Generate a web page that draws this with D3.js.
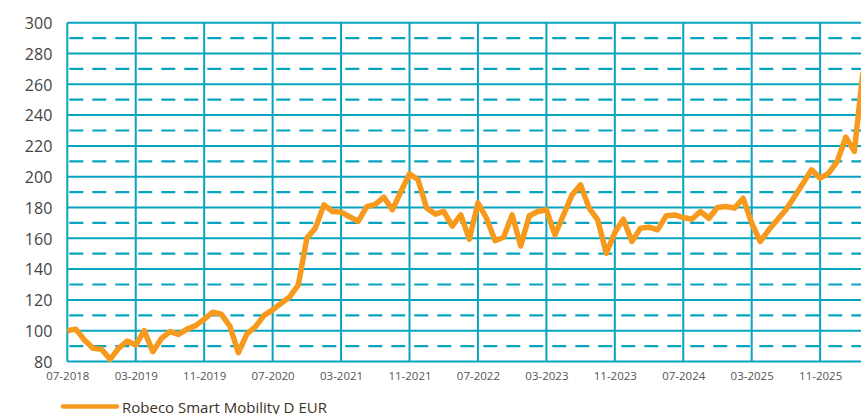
<!DOCTYPE html>
<html>
<head>
<meta charset="utf-8">
<script src="https://cdn.jsdelivr.net/npm/d3@7"></script>
<style>
  html, body { margin: 0; padding: 0; background: #fff; overflow: hidden; }
  svg { display: block; }
  text { font-family: "Open Sans", "Noto Sans", sans-serif; }
</style>
</head>
<body>
<div id="chart"></div>
<script>
// ---- data ----
const seriesName = "Robeco Smart Mobility D EUR";
const startMonth = "07-2018";
const values = [
  100, 101, 94, 88.6, 88, 81.4, 88.6, 93.3, 90.7, 100,
  86.4, 95, 99.4, 97.6, 101, 103.3, 107.4, 112, 110.7, 103,
  85.7, 98, 102.6, 110, 113.5, 117.8, 122, 129.7, 160, 166.6,
  181.7, 177.4, 177, 174, 171, 180.6, 182, 186.7, 178.5, 190.4,
  201.9, 198, 179.6, 175.7, 177.4, 168, 175.2, 159.4, 183, 173,
  158.5, 160.7, 175.2, 155, 174.6, 177.4, 178.5, 162.2, 175.2, 188.2,
  194.7, 179.6, 172, 150.3, 163.7, 172.4, 157.9, 166.6, 167.2, 165.5,
  174.6, 175.2, 173.5, 172.4, 177.4, 173, 180, 180.6, 179.6, 186,
  169.8, 157.9, 165.5, 172, 178.5, 187, 195.8, 204.5, 199, 202.3,
  210, 225.7, 216.4, 268
];
const xTickIndex = [0, 8, 16, 24, 32, 40, 48, 56, 64, 72, 80, 88];
const xTickLabels = ["07-2018", "03-2019", "11-2019", "07-2020", "03-2021", "11-2021",
                     "07-2022", "03-2023", "11-2023", "07-2024", "03-2025", "11-2025"];
const yTicks = [80, 100, 120, 140, 160, 180, 200, 220, 240, 260, 280, 300];
const yMinorTicks = [90, 110, 130, 150, 170, 190, 210, 230, 250, 270, 290];

// ---- layout ----
const W = 861, H = 414;
const padLeft = 67.3, padTop = 22.7, padBottom = 361.5;
const monthStep = 8.555;
const gridColor = "#06a4be";
const lineColor = "#f7991c";

const svg = d3.select("#chart").append("svg").attr("width", W).attr("height", H);

const x = d3.scaleLinear().domain([0, 93]).range([padLeft, padLeft + 93 * monthStep]);
const y = d3.scaleLinear().domain([80, 300]).range([padBottom, padTop]);

const gridRight = W + 10;

// dashed minor horizontal grid
svg.append("g").selectAll("line").data(yMinorTicks).join("line")
  .attr("x1", padLeft).attr("x2", gridRight)
  .attr("y1", d => y(d)).attr("y2", d => y(d))
  .attr("stroke", gridColor).attr("stroke-width", 2.2)
  .attr("stroke-dasharray", "14,9").attr("stroke-dashoffset", -2);

// solid major horizontal grid
svg.append("g").selectAll("line").data(yTicks).join("line")
  .attr("x1", padLeft).attr("x2", gridRight)
  .attr("y1", d => y(d)).attr("y2", d => y(d))
  .attr("stroke", gridColor).attr("stroke-width", 2);

// vertical grid
svg.append("g").selectAll("line").data(xTickIndex).join("line")
  .attr("x1", d => x(d)).attr("x2", d => x(d))
  .attr("y1", padTop).attr("y2", padBottom)
  .attr("stroke", gridColor).attr("stroke-width", 2);

// y axis labels
const yAxis = d3.axisLeft(y).tickValues(yTicks).tickSize(0).tickPadding(0).tickFormat(d3.format("d"));
const gy = svg.append("g").attr("transform", `translate(${padLeft - 15},0)`).call(yAxis);
gy.select(".domain").remove();
gy.selectAll("text").attr("font-size", 16).attr("fill", "#444").attr("dy", "0.36em")
  .style("font-family", '"Open Sans", sans-serif');

// x axis labels
const xAxis = d3.axisBottom(x).tickValues(xTickIndex).tickSize(0).tickPadding(0)
  .tickFormat((d, i) => xTickLabels[i]);
const gx = svg.append("g").attr("transform", `translate(0,${padBottom + 10})`).call(xAxis);
gx.select(".domain").remove();
gx.selectAll("text").attr("font-size", 11.5).attr("fill", "#555").attr("dy", "0.71em")
  .style("font-family", '"Open Sans", sans-serif');

// series line
const line = d3.line().x((d, i) => x(i)).y(d => y(d));
svg.append("path").datum(values)
  .attr("d", line)
  .attr("fill", "none")
  .attr("stroke", lineColor)
  .attr("stroke-width", 5.5)
  .attr("stroke-linejoin", "round")
  .attr("stroke-linecap", "butt");

// legend
const lg = svg.append("g").attr("transform", "translate(63,406.5)");
lg.append("line").attr("x1", 0).attr("x2", 54).attr("y1", 0).attr("y2", 0)
  .attr("stroke", lineColor).attr("stroke-width", 4.5).attr("stroke-linecap", "round");
lg.append("text").attr("x", 59).attr("y", 6)
  .attr("font-size", 15).attr("fill", "#3b3226")
  .text(seriesName);
</script>
</body>
</html>
